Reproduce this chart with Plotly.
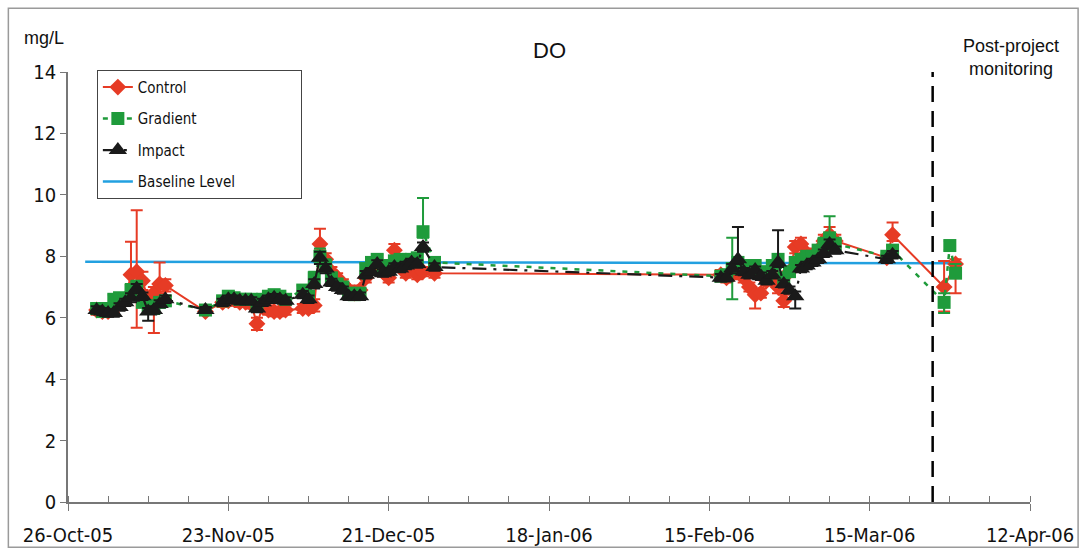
import plotly.graph_objects as go

dates = [
    "2005-10-31", "2005-11-01", "2005-11-02", "2005-11-03", "2005-11-04", "2005-11-05", "2005-11-06",
    "2005-11-07", "2005-11-08", "2005-11-09", "2005-11-10", "2005-11-11", "2005-11-12",
    "2005-11-19",
    "2005-11-22", "2005-11-23", "2005-11-24", "2005-11-25", "2005-11-26", "2005-11-27", "2005-11-28",
    "2005-11-29", "2005-11-30", "2005-12-01", "2005-12-02", "2005-12-03",
    "2005-12-06", "2005-12-07", "2005-12-08", "2005-12-09", "2005-12-10", "2005-12-11", "2005-12-12",
    "2005-12-13", "2005-12-14", "2005-12-15", "2005-12-16", "2005-12-17", "2005-12-18", "2005-12-19",
    "2005-12-20", "2005-12-21", "2005-12-22", "2005-12-23", "2005-12-24", "2005-12-25", "2005-12-26",
    "2005-12-27", "2005-12-29",
    "2006-02-17", "2006-02-18", "2006-02-19", "2006-02-20", "2006-02-21", "2006-02-22", "2006-02-23",
    "2006-02-24", "2006-02-25", "2006-02-26", "2006-02-27", "2006-02-28", "2006-03-01", "2006-03-02",
    "2006-03-03", "2006-03-04", "2006-03-05", "2006-03-06", "2006-03-07", "2006-03-08", "2006-03-09",
    "2006-03-18", "2006-03-19",
    "2006-03-28", "2006-03-29", "2006-03-30",
]

control = [
    6.25, 6.2, 6.2, 6.3, 6.5, 6.6, 7.4, 7.5, 7.2, 6.6, 6.8, 7.1, 7.05,
    6.2,
    6.5, 6.55, 6.6, 6.5, 6.5, 6.45, 5.8, 6.35, 6.25, 6.2, 6.2, 6.25,
    6.3, 6.3, 6.4, 8.4, 7.9, 7.5, 7.3, 7.1, 6.9, 6.8, 6.9, 7.3, 7.6, 7.8,
    7.5, 7.3, 8.2, 7.7, 7.45, 7.6, 7.4, 7.5, 7.45,
    7.4, 7.3, 7.4, 7.6, 7.3, 7.0, 6.75, 6.8, 7.2, 7.3, 7.0, 6.55, 7.5, 8.3,
    8.4, 8.1, 8.0, 8.2, 8.5, 8.7, 8.5,
    7.95, 8.7,
    7.0, None, 7.75,
]
control_up = [
    0.15, 0.15, 0.15, 0.15, 0.15, 0.2, 1.07, 2.0, 0.3, 0.2, 0.2, 0.7, 0.2,
    0.1,
    0.15, 0.15, 0.2, 0.15, 0.15, 0.15, 0.2, 0.15, 0.15, 0.15, 0.15, 0.15,
    0.15, 0.15, 0.2, 0.5, 0.2, 0.15, 0.15, 0.15, 0.15, 0.15, 0.15, 0.15, 0.15, 0.15,
    0.15, 0.15, 0.2, 0.15, 0.15, 0.15, 0.15, 0.15, 0.15,
    0.15, 0.15, 0.15, 0.2, 0.15, 0.15, 0.2, 0.15, 0.15, 0.15, 0.2, 0.2, 0.15, 0.2,
    0.2, 0.15, 0.15, 0.15, 0.2, 0.25, 0.2,
    0.15, 0.4,
    0.85, 0, 0.15,
]
control_dn = [
    0.15, 0.15, 0.15, 0.15, 0.15, 0.2, 0.3, 1.83, 0.3, 0.2, 1.3, 0.3, 0.2,
    0.1,
    0.15, 0.15, 0.2, 0.15, 0.15, 0.15, 0.2, 0.15, 0.15, 0.15, 0.15, 0.15,
    0.15, 0.15, 0.2, 0.2, 0.2, 0.15, 0.15, 0.15, 0.15, 0.15, 0.15, 0.15, 0.15, 0.15,
    0.15, 0.15, 0.2, 0.15, 0.15, 0.15, 0.15, 0.15, 0.15,
    0.15, 0.15, 0.15, 0.2, 0.15, 0.15, 0.45, 0.15, 0.15, 0.15, 0.2, 0.2, 0.15, 0.2,
    0.2, 0.15, 0.15, 0.15, 0.2, 0.25, 0.2,
    0.15, 0.2,
    0.8, 0, 0.95,
]

gradient = [
    6.3, 6.2, 6.3, 6.6, 6.65, 6.6, 6.9, 7.0, 6.5, 6.4, 6.3, 6.5, 6.55,
    6.25,
    6.55, 6.7, 6.65, 6.6, 6.6, 6.6, 6.4, 6.6, 6.7, 6.75, 6.7, 6.6,
    6.9, 6.7, 7.3, 8.0, 7.7, 7.3, 7.1, 7.0, 6.8, 6.75, 6.8, 7.6, 7.8, 7.9,
    7.6, 7.7, 7.85, 7.9, 7.8, 7.9, 7.95, 8.8, 7.8,
    7.35, 7.4, 7.6, 7.8, 7.7, 7.6, 7.7, 7.5, 7.4, 7.7, 7.9, 7.3, 7.5, 7.8,
    7.9, 8.0, 8.0, 8.2, 8.4, 8.6, 8.4,
    8.0, 8.2,
    6.5, 8.35, 7.45,
]
gradient_up = [
    0.15, 0.15, 0.15, 0.15, 0.15, 0.15, 0.2, 0.2, 0.15, 0.15, 0.15, 0.15, 0.15,
    0.1,
    0.15, 0.15, 0.15, 0.15, 0.15, 0.15, 0.15, 0.15, 0.15, 0.15, 0.15, 0.15,
    0.15, 0.15, 0.2, 0.25, 0.2, 0.15, 0.15, 0.15, 0.15, 0.15, 0.15, 0.15, 0.15, 0.15,
    0.15, 0.15, 0.15, 0.15, 0.15, 0.15, 0.15, 1.1, 0.15,
    0.15, 0.15, 1.0, 0.15, 0.15, 0.15, 0.15, 0.15, 0.15, 0.15, 0.15, 0.15, 0.15, 0.15,
    0.15, 0.15, 0.15, 0.15, 0.2, 0.7, 0.2,
    0.15, 0.15,
    0.3, 0.15, 0.3,
]
gradient_dn = [
    0.15, 0.15, 0.15, 0.15, 0.15, 0.15, 0.2, 0.2, 0.15, 0.15, 0.15, 0.15, 0.15,
    0.1,
    0.15, 0.15, 0.15, 0.15, 0.15, 0.15, 0.15, 0.15, 0.15, 0.15, 0.15, 0.15,
    0.15, 0.15, 0.2, 0.25, 0.2, 0.15, 0.15, 0.15, 0.15, 0.15, 0.15, 0.15, 0.15, 0.15,
    0.15, 0.15, 0.15, 0.15, 0.15, 0.15, 0.15, 0.2, 0.15,
    0.15, 0.15, 1.0, 0.15, 0.15, 0.15, 0.15, 0.15, 0.15, 0.15, 0.15, 0.15, 0.15, 0.15,
    0.15, 0.15, 0.15, 0.15, 0.2, 0.2, 0.2,
    0.15, 0.15,
    0.35, 0.15, 0.15,
]

impact = [
    6.25, 6.2, 6.15, 6.15, 6.35, 6.5, 6.65, 6.95, 6.7, 6.2, 6.25, 6.45, 6.6,
    6.25,
    6.5, 6.6, 6.6, 6.55, 6.55, 6.55, 6.3, 6.5, 6.6, 6.65, 6.6, 6.55,
    6.75, 6.6, 7.1, 7.95, 7.6, 7.15, 7.0, 6.9, 6.7, 6.7, 6.7, 7.4, 7.5, 7.75,
    7.45, 7.5, 7.65, 7.6, 7.7, 7.8, 7.75, 8.3, 7.65,
    7.3, 7.3, 7.6, 7.9, 7.5, 7.4, 7.55, 7.35, 7.2, 7.4, 7.8, 7.1, 6.9, 6.7,
    7.6, 7.7, 7.8, 7.9, 8.1, 8.4, 8.2,
    7.9, 8.05,
    None, None, None,
]
impact_up = [
    0.12, 0.12, 0.12, 0.12, 0.12, 0.12, 0.15, 0.15, 0.12, 0.12, 0.12, 0.12, 0.12,
    0.1,
    0.12, 0.12, 0.12, 0.12, 0.12, 0.12, 0.12, 0.12, 0.12, 0.12, 0.12, 0.12,
    0.12, 0.12, 0.15, 0.2, 0.15, 0.12, 0.12, 0.12, 0.12, 0.12, 0.12, 0.12, 0.12, 0.12,
    0.12, 0.12, 0.12, 0.12, 0.12, 0.12, 0.12, 0.15, 0.12,
    0.12, 0.12, 0.15, 1.05, 0.12, 0.12, 0.12, 0.12, 0.12, 0.12, 1.05, 0.12, 0.12, 0.15,
    0.12, 0.12, 0.12, 0.12, 0.12, 0.15, 0.12,
    0.12, 0.12,
    0, 0, 0,
]
impact_dn = [
    0.12, 0.12, 0.12, 0.12, 0.12, 0.12, 0.15, 0.15, 0.12, 0.3, 0.12, 0.12, 0.12,
    0.1,
    0.12, 0.12, 0.12, 0.12, 0.12, 0.12, 0.12, 0.12, 0.12, 0.12, 0.12, 0.12,
    0.12, 0.12, 0.15, 0.2, 0.15, 0.12, 0.12, 0.12, 0.12, 0.12, 0.12, 0.12, 0.12, 0.12,
    0.12, 0.12, 0.12, 0.12, 0.12, 0.12, 0.12, 0.15, 0.12,
    0.12, 0.12, 0.15, 0.15, 0.12, 0.12, 0.12, 0.12, 0.12, 0.12, 0.15, 0.12, 0.12, 0.4,
    0.12, 0.12, 0.12, 0.12, 0.12, 0.15, 0.12,
    0.12, 0.12,
    0, 0, 0,
]

baseline_dates = ["2005-10-29", "2006-03-31"]
baseline_values = [7.82, 7.77]

post_project_date = "2006-03-26"
x_range = ["2005-10-26", "2006-04-12"]
tick_dates = ["2005-10-26", "2005-11-23", "2005-12-21", "2006-01-18", "2006-02-15", "2006-03-15", "2006-04-12"]
tick_labels = ["26-Oct-05", "23-Nov-05", "21-Dec-05", "18-Jan-06", "15-Feb-06", "15-Mar-06", "12-Apr-06"]
y_ticks = [0, 2, 4, 6, 8, 10, 12, 14]

RED = "#e63b25"
GREEN = "#1f9b3b"
BLACK = "#1a1a1a"
BLUE = "#22a0e0"
TICKFONT = "DejaVu Sans Condensed"
PAD = "\u00a0" * 14

fig = go.Figure()

fig.add_trace(go.Scatter(
    x=baseline_dates, y=baseline_values, mode="lines", name="Baseline Level" + PAD,
    line=dict(color=BLUE, width=2.5), legendrank=4, legendgroup="d",
))
fig.add_trace(go.Scatter(
    x=dates, y=control, mode="lines+markers", name="Control", connectgaps=True,
    line=dict(color=RED, width=2),
    marker=dict(symbol="diamond", size=13, color=RED),
    error_y=dict(type="data", array=control_up, arrayminus=control_dn, color=RED, thickness=2, width=6),
    legendrank=1, legendgroup="a",
))
fig.add_trace(go.Scatter(
    x=dates, y=gradient, mode="lines+markers", name="Gradient", connectgaps=True,
    line=dict(color=GREEN, width=2.5, dash="5px,7px"),
    marker=dict(symbol="square", size=13, color=GREEN),
    error_y=dict(type="data", array=gradient_up, arrayminus=gradient_dn, color=GREEN, thickness=2, width=6),
    legendrank=2, legendgroup="b",
))
fig.add_trace(go.Scatter(
    x=dates, y=impact, mode="lines+markers", name="Impact", connectgaps=True,
    line=dict(color=BLACK, width=2.2, dash="14px,7px,3px,7px"),
    marker=dict(symbol="triangle-up", size=16, color=BLACK),
    error_y=dict(type="data", array=impact_up, arrayminus=impact_dn, color=BLACK, thickness=2, width=6),
    legendrank=3, legendgroup="c",
))

fig.add_shape(type="line", xref="x", yref="y", x0=post_project_date, x1=post_project_date,
              y0=0, y1=14.15, line=dict(color="black", width=2.5, dash="16px,9px"))
# outer frame of the chart
fig.add_shape(type="rect", xref="paper", yref="paper", x0=-0.062, x1=1.05, y0=-0.105, y1=1.148,
              line=dict(color="#9a9a9a", width=1.5))

fig.add_annotation(text="mg/L", xref="paper", yref="paper", x=-0.025, y=1.079,
                   xanchor="center", yanchor="middle",
                   showarrow=False, font=dict(family="Liberation Sans", size=18, color="#111"))
fig.add_annotation(text="DO", xref="paper", yref="paper", x=0.501, y=1.051,
                   xanchor="center", yanchor="middle",
                   showarrow=False, font=dict(family="Liberation Sans", size=22, color="#111"))
fig.add_annotation(text="Post-project<br>monitoring", xref="paper", yref="paper", x=0.98, y=1.088,
                   xanchor="center", yanchor="top", showarrow=False, align="center",
                   font=dict(family="Liberation Sans", size=18, color="#111"))

fig.update_layout(
    width=1086, height=559,
    margin=dict(l=68, r=54, t=72, b=57),
    paper_bgcolor="white", plot_bgcolor="white",
    showlegend=True,
    legend=dict(x=0.030, y=1.005, xanchor="left", yanchor="top",
                bordercolor="#444", borderwidth=1, bgcolor="white",
                font=dict(family=TICKFONT, size=15, color="#111"),
                tracegroupgap=9, traceorder="grouped"),
    xaxis=dict(type="date", range=x_range, tickvals=tick_dates, ticktext=tick_labels,
               showgrid=False, zeroline=False, showline=True, linecolor="#777", linewidth=1.5,
               ticks="outside", ticklen=7, tickcolor="#777", ticklabelstandoff=7,
               minor=dict(dtick=7 * 24 * 3600 * 1000, tick0="2005-10-26", ticks="inside", ticklen=6, tickcolor="#777"),
               tickfont=dict(family=TICKFONT, size=20, color="#111")),
    yaxis=dict(range=[0, 14], tickvals=y_ticks, showgrid=False, zeroline=False,
               showline=True, linecolor="#777", linewidth=1.5,
               ticks="outside", ticklen=6, tickcolor="#777",
               tickfont=dict(family=TICKFONT, size=20, color="#111")),
)

fig.write_html("out.html")
